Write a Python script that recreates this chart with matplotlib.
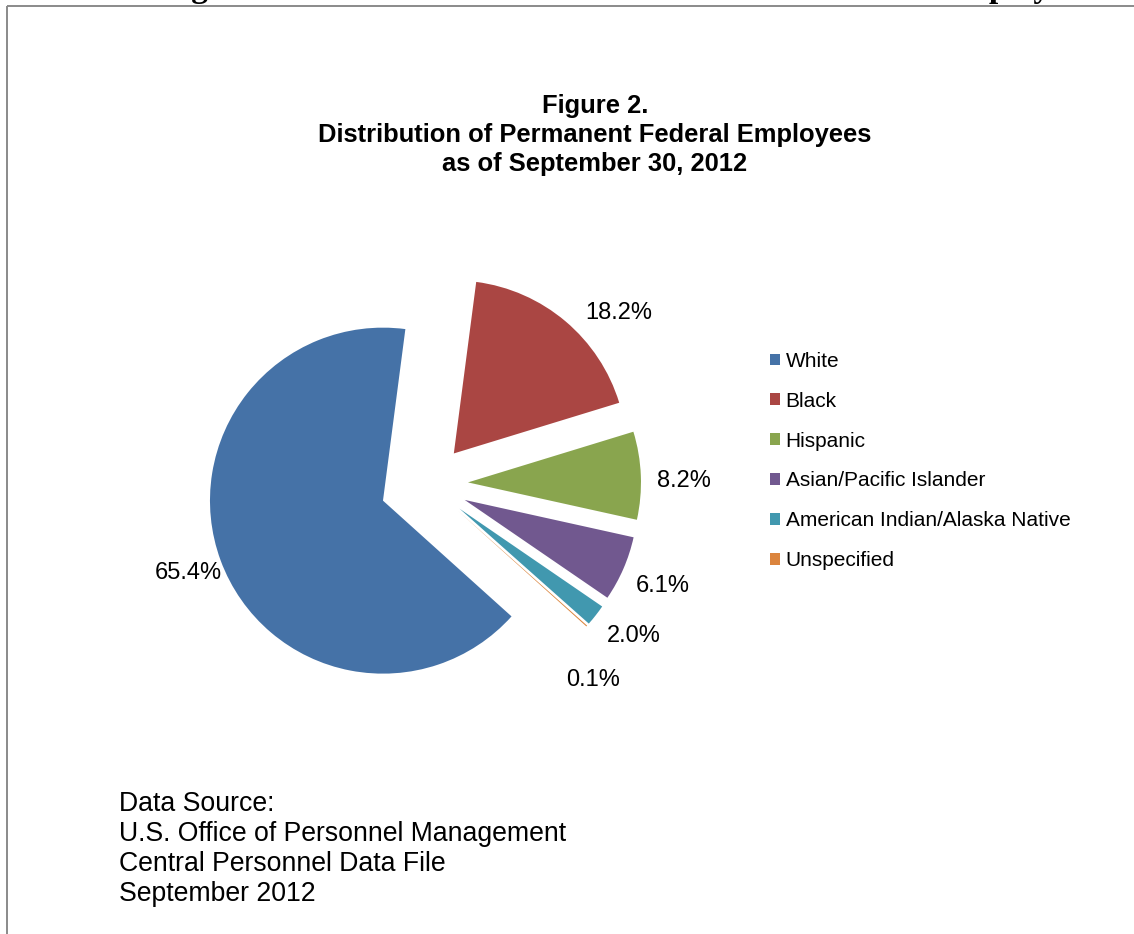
import matplotlib
matplotlib.use('Agg')
import matplotlib.pyplot as plt
from matplotlib.patches import Rectangle
import numpy as np

categories = ["White", "Black", "Hispanic", "Asian/Pacific Islander",
              "American Indian/Alaska Native", "Unspecified"]
values = [65.4, 18.2, 8.2, 6.1, 2.0, 0.1]
colors = ["#4572A7", "#AA4643", "#89A54E", "#71588F", "#4198AF", "#DB843D"]
title_lines = ["Figure 2.", "Distribution of Permanent Federal Employees",
               "as of September 30, 2012"]
source_lines = ["Data Source:", "U.S. Office of Personnel Management",
                "Central Personnel Data File", "September 2012"]
page_heading = "Ethnic Background Distribution of the Total Permanent Federal Employees"

plt.rcParams['font.family'] = ['Liberation Sans', 'DejaVu Sans']

W, H = 1134, 934
fig = plt.figure(figsize=(W / 100, H / 100), dpi=100)
ax = fig.add_axes([0, 0, 1, 1])

cx, cy = 428, H - 484
R = 173
wedges, _ = ax.pie(values, colors=colors, startangle=-42, counterclock=False,
                   explode=[48, 40, 40, 40, 40, 40], radius=R, center=(cx, cy),
                   wedgeprops=dict(linewidth=0))
ax.set_xlim(0, W)
ax.set_ylim(0, H)
ax.set_aspect('equal')
ax.axis('off')

# data labels outside each slice
label_shift = [0, 8, 1.5, 0, -1.5, 8]
label_r = 256
for w, v, s in zip(wedges, values, label_shift):
    mid = np.deg2rad((w.theta1 + w.theta2) / 2 - s)
    ax.text(cx + label_r * np.cos(mid), cy + label_r * np.sin(mid), f"{v:.1f}%",
            ha='center', va='center', fontsize=17, color='black')

# legend
handles = [Rectangle((0, 0), 1, 1, facecolor=c, edgecolor='none') for c in colors]
ax.legend(handles, categories, loc='center left', bbox_to_anchor=(770, H - 461),
          bbox_transform=ax.transData, frameon=False, fontsize=15,
          handlelength=0.5, handleheight=0.5, handletextpad=0.25,
          labelspacing=1.0, borderpad=0, borderaxespad=0)

# title
for yb, t in zip([112.5, 142, 171.5], title_lines):
    ax.text(595, H - yb, t, ha='center', va='baseline', fontsize=18.4,
            fontweight='bold', color='black')

# data source
for yb, t in zip([811, 841, 871, 901], source_lines):
    ax.text(119, H - yb, t, ha='left', va='baseline', fontsize=19.2, color='black')

# frame
ax.plot([6.5, 6.5], [0, H - 5.5], color='#8a8a8a', lw=1.4, solid_capstyle='butt')
ax.plot([6.5, W], [H - 5.5, H - 5.5], color='#8a8a8a', lw=1.4, solid_capstyle='butt')

# clipped page heading above the frame
ax.text(16, H + 3.5, page_heading, ha='left', va='baseline', fontsize=24,
        fontweight='bold', family=['Liberation Serif', 'DejaVu Serif'], color='black')

fig.savefig('out.png', dpi=100)
